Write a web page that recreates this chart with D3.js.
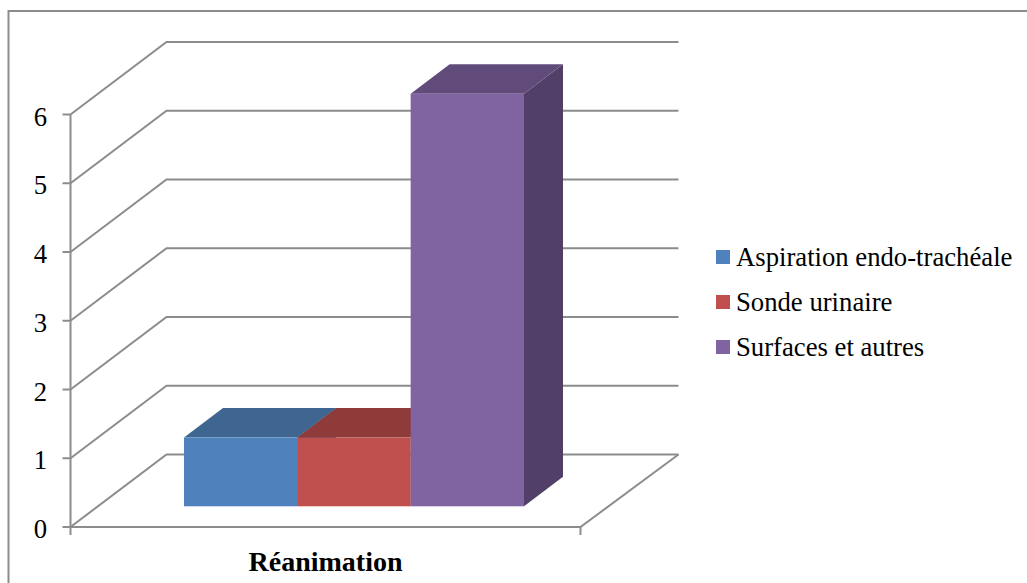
<!DOCTYPE html>
<html>
<head>
<meta charset="utf-8">
<script src="https://cdn.jsdelivr.net/npm/d3@7/dist/d3.min.js"></script>
<style>
html, body { margin: 0; padding: 0; background: #fff; }
svg { display: block; }
text { font-family: "Liberation Serif", serif; fill: #000; }
</style>
</head>
<body>
<svg id="chart" width="1027" height="583"></svg>
<script>
const category = "Réanimation";
const seriesNames = ["Aspiration endo-trachéale", "Sonde urinaire", "Surfaces et autres"];
const seriesValues = [1, 1, 6];
const frontColors = ["#4f81bd", "#c0504d", "#8064a2"];
const topColors = ["#3f6591", "#8f3b39", "#604b7a"];
const sideColors = ["#35557a", "#7a3331", "#523f67"];
const tickValues = [0, 1, 2, 3, 4, 5, 6];

const gridColor = "#8c8c8c";
const svg = d3.select("#chart");

// Box projection: the front plane, then the shift to the back wall
const y = d3.scaleLinear().domain([0, 6]).range([527, 114.5]);
const xFloor = d3.scaleLinear().domain([0, 1]).range([70.5, 580.5]);
const wall = { dx: 96, dy: -72.5 };
const depth = { dx: 39, dy: -29.5 };
const barInset = { dx: 0, dy: -20.7 };

const band = d3.scaleBand().domain(d3.range(seriesNames.length)).range([184, 524]);

// Outer frame
svg.append("path")
  .attr("d", "M8.5,583V11H1027")
  .attr("fill", "none").attr("stroke", gridColor).attr("stroke-width", 2);

const line = (pts) => d3.line()(pts);
const grid = svg.append("g").attr("fill", "none").attr("stroke", gridColor).attr("stroke-width", 2);

// Gridlines run along the side wall, then across the back wall
grid.selectAll("path.wall").data(tickValues).join("path").attr("class", "wall")
  .attr("d", (v) => line([
    [xFloor(0), y(v)],
    [xFloor(0) + wall.dx, y(v) + wall.dy],
    [xFloor(1) + 98, y(v) + wall.dy]
  ]));

// Floor edge and vertical axis
grid.append("path").attr("d", line([
  [xFloor(0), y(0)], [xFloor(1), y(0)], [xFloor(1) + 98, y(0) + wall.dy]
]));
grid.append("path").attr("d", line([[xFloor(0), y(6)], [xFloor(0), y(0)]]));

// Tick marks
grid.selectAll("path.ytick").data(tickValues).join("path").attr("class", "ytick")
  .attr("d", (v) => line([[xFloor(0) - 8, y(v)], [xFloor(0), y(v)]]));
grid.selectAll("path.xtick").data([0, 1]).join("path").attr("class", "xtick")
  .attr("d", (t) => line([[xFloor(t), y(0)], [xFloor(t), y(0) + 8]]));

// Bars
const barY = (v) => y(v) + barInset.dy;
const bars = svg.append("g").selectAll("g").data(seriesValues).join("g");

bars.append("path")
  .attr("fill", (d, i) => sideColors[i])
  .attr("d", (d, i) => {
    const x1 = band(i) + band.bandwidth();
    return line([
      [x1, barY(d)], [x1 + depth.dx, barY(d) + depth.dy],
      [x1 + depth.dx, barY(0) + depth.dy], [x1, barY(0)]
    ]) + "Z";
  });
bars.append("path")
  .attr("fill", (d, i) => topColors[i])
  .attr("d", (d, i) => {
    const x0 = band(i), x1 = x0 + band.bandwidth();
    return line([
      [x0, barY(d)], [x0 + depth.dx, barY(d) + depth.dy],
      [x1 + depth.dx, barY(d) + depth.dy], [x1, barY(d)]
    ]) + "Z";
  });
bars.append("rect")
  .attr("fill", (d, i) => frontColors[i])
  .attr("x", (d, i) => band(i))
  .attr("y", (d) => barY(d))
  .attr("width", band.bandwidth())
  .attr("height", (d) => barY(0) - barY(d));

// Value axis labels
svg.append("g").selectAll("text").data(tickValues).join("text")
  .attr("x", 47).attr("y", (v) => y(v) + 11)
  .attr("text-anchor", "end").attr("font-size", 26.7)
  .text((v) => v);

// Category label
svg.append("text")
  .attr("x", 325.5).attr("y", 571)
  .attr("text-anchor", "middle").attr("font-size", 28).attr("font-weight", "bold")
  .text(category);

// Legend
const legendY = d3.scalePoint().domain(seriesNames).range([257, 347]);
const legend = svg.append("g").selectAll("g").data(seriesNames).join("g")
  .attr("transform", (d) => `translate(716,${legendY(d)})`);
legend.append("rect")
  .attr("x", 0).attr("y", -7).attr("width", 14).attr("height", 14)
  .attr("fill", (d, i) => frontColors[i]);
legend.append("text")
  .attr("x", 20).attr("y", 9).attr("font-size", 26.7)
  .text((d) => d);
</script>
</body>
</html>
